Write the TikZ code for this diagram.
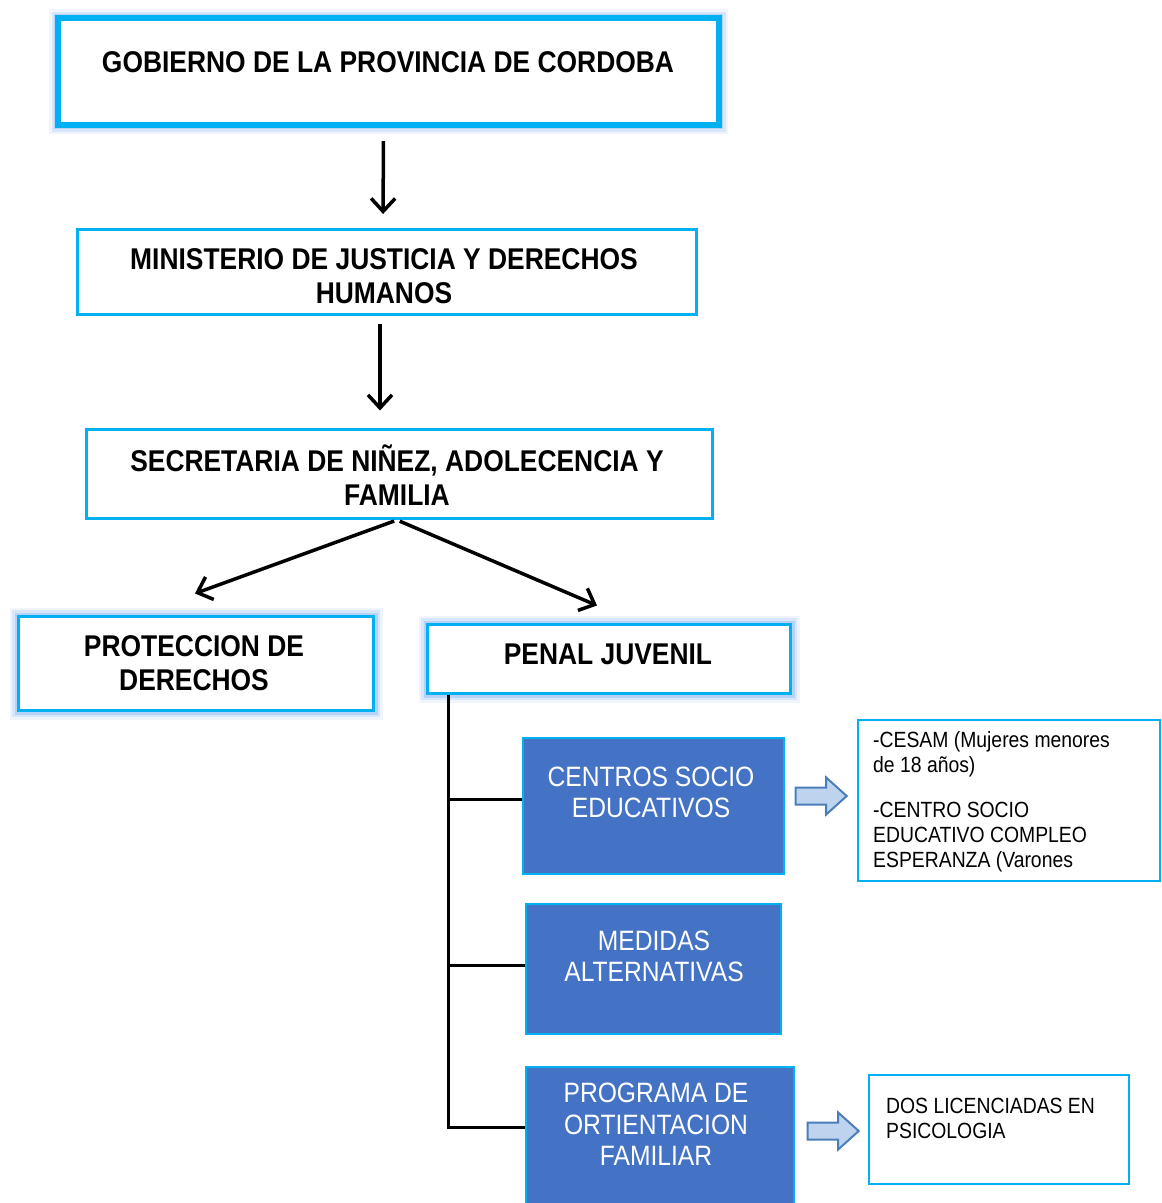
\documentclass[tikz,border=0pt]{standalone}
\usepackage{fontspec}
\setmainfont{Liberation Sans}[FakeStretch=0.88]
\usetikzlibrary{arrows.meta,shapes.arrows}
\definecolor{frameblue}{RGB}{0,176,240}
\definecolor{boxblue}{RGB}{68,114,196}
\definecolor{glowblue}{RGB}{70,140,240}
\definecolor{arrowfill}{RGB}{190,212,238}
\definecolor{arrowline}{RGB}{74,126,187}
\begin{document}
\begin{tikzpicture}
[x=1pt,y=-1pt,
 framedecorate/.style={shape=rectangle,draw=frameblue,fill=white,line width=3pt,inner sep=0pt},%
 glowdecorate/.style={preaction={draw=glowblue,line width=18pt,opacity=0.08,rounded corners=6pt},
                      preaction={draw=glowblue,line width=13pt,opacity=0.14,rounded corners=4pt},
                      preaction={draw=glowblue,line width=8pt,opacity=0.22}},%
 bluedecorate/.style={shape=rectangle,draw=frameblue,fill=boxblue,line width=2pt,inner sep=0pt},%
 headtext/.style={align=center,inner sep=0pt,font=\fontsize{30}{34}\selectfont\bfseries},%
 whitetext/.style={align=center,inner sep=0pt,text=white,font=\fontsize{28}{31.5}\selectfont},%
 infotext/.style={align=left,inner sep=0pt,anchor=west,font=\fontsize{22}{25}\selectfont},%
 blockarrow/.style={single arrow,draw=arrowline,fill=arrowfill,line width=2pt,inner xsep=0pt,
                    inner ysep=7.5pt,minimum height=51pt,single arrow head extend=10pt,
                    single arrow tip angle=84},%
 linedecorate/.style={-{Straight Barb[length=13pt,width=24pt,line width=3.5pt]},line width=3.5pt},%
 treeline/.style={-,line width=3pt}]
\fill[white] (0,0) rectangle (1162,1203);
\useasboundingbox (0,0) rectangle (1162,1203);
%% frames
\node (gob) at (388.5,71.5) [framedecorate,glowdecorate,line width=6pt,minimum width=661pt,minimum height=107pt] {};
\foreach \nodename/\x/\y/\w/\h in {min/387/272/619/85, sec/399.5/474/626/89} {
  \node (\nodename) at (\x,\y) [framedecorate,minimum width=\w pt,minimum height=\h pt] {};
}
\foreach \nodename/\x/\y/\w/\h in {prot/196/663.5/355/94, penal/609/659/363/69} {
  \node (\nodename) at (\x,\y) [framedecorate,glowdecorate,minimum width=\w pt,minimum height=\h pt] {};
}
\foreach \nodename/\x/\y/\w/\h in {centros/653.5/806/261/136, medidas/653.5/969/255/130, programa/660/1141/268/148} {
  \node (\nodename) at (\x,\y) [bluedecorate,minimum width=\w pt,minimum height=\h pt] {};
}
\foreach \nodename/\x/\y/\w/\h in {cesam/1009/800.5/302/161, dos/999/1129.5/260/109} {
  \node (\nodename) at (\x,\y) [framedecorate,line width=2pt,minimum width=\w pt,minimum height=\h pt] {};
}
%% texts
\foreach \nodename/\x/\y/\txt in {gobT/388/62/{GOBIERNO DE LA PROVINCIA DE CORDOBA},
    minT/384/276/{MINISTERIO DE JUSTICIA Y DERECHOS\\HUMANOS},
    secT/397/475.5/{SECRETARIA DE NIÑEZ, ADOLECENCIA Y\\FAMILIA},
    protT/194/663.5/{PROTECCION DE\\DERECHOS}, penalT/608/654/{PENAL JUVENIL}} {
  \node (\nodename) at (\x,\y) [headtext] {\txt};
}
\foreach \nodename/\x/\y/\txt in {centrosT/651/792.5/{CENTROS SOCIO\\EDUCATIVOS},
    medidasT/654/956.5/{MEDIDAS\\ALTERNATIVAS},
    programaT/656/1124.5/{PROGRAMA DE\\ORTIENTACION\\FAMILIAR}} {
  \node (\nodename) at (\x,\y) [whitetext] {\txt};
}
\node (cesamT) at (873,801.5) [infotext] {-CESAM (Mujeres menores\\de 18 años)\\[20pt]-CENTRO SOCIO\\EDUCATIVO COMPLEO\\ESPERANZA (Varones};
\node (dosT) at (886,1118) [infotext] {DOS LICENCIADAS EN\\PSICOLOGIA};
%% block arrows
\node (cesamArrow) at (816.5,796) [blockarrow] {};
\node (dosArrow) at (828.5,1131) [blockarrow] {};
%% arrows
\coordinate (protTip) at ([xshift=-1pt,yshift=21.5pt]prot.north);
\coordinate (penalTip) at ([xshift=-12pt,yshift=17.5pt]penal.north);
\draw[linedecorate,shorten <=13pt,shorten >=14pt] ([xshift=-5pt]gob.south) -- ([xshift=-4pt]min.north);
\draw[linedecorate,shorten <=7.5pt,shorten >=17.5pt] ([xshift=-7pt]min.south) -- ([xshift=-19.5pt]sec.north);
\path
\foreach \endnode in {protTip, penalTip} {
  ([xshift=-2.5pt]sec.south) edge[linedecorate,shorten <=3pt] (\endnode)
};
%% tree
\coordinate (trunk) at ([xshift=22.5pt]penal.south west);
\foreach \boxname/\dy in {centros/7, medidas/4, programa/14} {
  \draw[treeline] ([yshift=\dy pt]\boxname.west) -| (trunk);
}
\end{tikzpicture}
\end{document}
